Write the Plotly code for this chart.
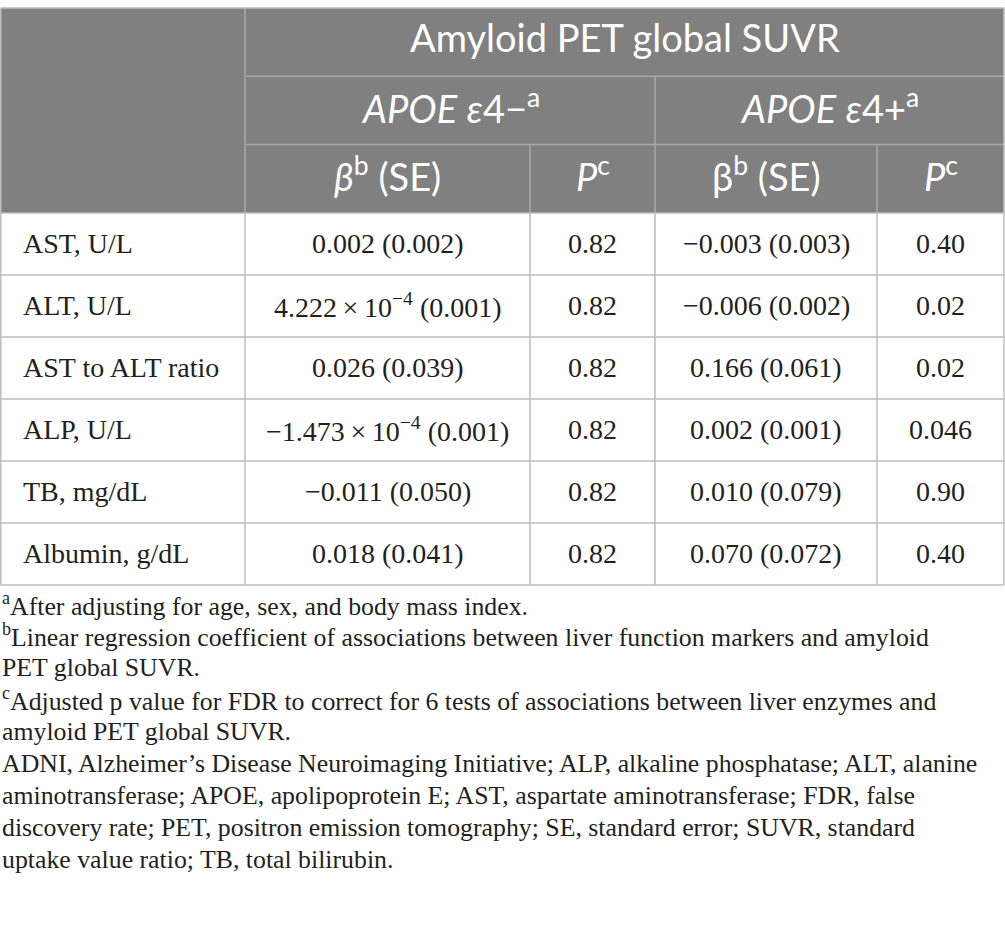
import plotly.graph_objects as go

# table content
markers = ["AST, U/L", "ALT, U/L", "AST to ALT ratio", "ALP, U/L", "TB, mg/dL", "Albumin, g/dL"]
beta_neg = ["0.002 (0.002)", "4.222\u2009×\u200910<sup>\u22124</sup> (0.001)", "0.026 (0.039)",
            "\u22121.473\u2009×\u200910<sup>\u22124</sup> (0.001)", "\u22120.011 (0.050)", "0.018 (0.041)"]
p_neg = ["0.82", "0.82", "0.82", "0.82", "0.82", "0.82"]
beta_pos = ["\u22120.003 (0.003)", "\u22120.006 (0.002)", "0.166 (0.061)",
            "0.002 (0.001)", "0.010 (0.079)", "0.070 (0.072)"]
p_pos = ["0.40", "0.02", "0.02", "0.046", "0.90", "0.40"]

title_top = "Amyloid PET global SUVR"
group_heads = ["<i>APOE</i> <i>\u03b5</i>4\u2212<sup>a</sup>", "<i>APOE</i> <i>\u03b5</i>4+<sup>a</sup>"]
sub_heads = ["<i>\u03b2</i><sup>b</sup> (SE)", "<i>P</i><sup>c</sup>", "\u03b2<sup>b</sup> (SE)", "<i>P</i><sup>c</sup>"]

footnotes = [
    "<sup>a</sup>After adjusting for age, sex, and body mass index.",
    "<sup>b</sup>Linear regression coefficient of associations between liver function markers and amyloid",
    "PET global SUVR.",
    "<sup>c</sup>Adjusted p value for FDR to correct for 6 tests of associations between liver enzymes and",
    "amyloid PET global SUVR.",
    "ADNI, Alzheimer\u2019s Disease Neuroimaging Initiative; ALP, alkaline phosphatase; ALT, alanine",
    "aminotransferase; APOE, apolipoprotein E; AST, aspartate aminotransferase; FDR, false",
    "discovery rate; PET, positron emission tomography; SE, standard error; SUVR, standard",
    "uptake value ratio; TB, total bilirubin.",
]

# layout geometry (pixels)
W, H = 1005, 941
col_x = [0.75, 245, 530, 655, 877, 1004]
top = 8
head_h = 68.3
row_h = 62
foot_y0 = 604
foot_dy = 31.9

HEAD_BG = "#808080"
HEAD_LINE = "#a9a9a9"
BODY_LINE = "#bdbdbd"
TXT = "#231f20"
SERIF = "Liberation Serif"
SANS = "Lato"

head_bot = top + 3 * head_h
body_bot = head_bot + row_h * len(markers)

fig = go.Figure()
shapes = []
annos = []


def line(x0, y0, x1, y1, color):
    shapes.append(dict(type="line", x0=x0, y0=y0, x1=x1, y1=y1,
                       line=dict(color=color, width=1.5), layer="above"))


def text(x, y, s, size, color, font, anchor="center"):
    annos.append(dict(x=x, y=y, text=s, showarrow=False, xanchor=anchor, yanchor="middle",
                      font=dict(size=size, color=color, family=font)))


# header background
shapes.append(dict(type="rect", x0=col_x[0], y0=top, x1=col_x[-1], y1=head_bot,
                   fillcolor=HEAD_BG, line=dict(width=0), layer="below"))

# header grid
line(col_x[1], top + head_h, col_x[-1], top + head_h, HEAD_LINE)
line(col_x[1], top + 2 * head_h, col_x[-1], top + 2 * head_h, HEAD_LINE)
line(col_x[1], top, col_x[1], head_bot, HEAD_LINE)
line(col_x[3], top + head_h, col_x[3], head_bot, HEAD_LINE)
line(col_x[2], top + 2 * head_h, col_x[2], head_bot, HEAD_LINE)
line(col_x[4], top + 2 * head_h, col_x[4], head_bot, HEAD_LINE)

# outer border + body grid
line(col_x[0], top, col_x[-1], top, BODY_LINE)
line(col_x[0], top, col_x[0], body_bot, BODY_LINE)
line(col_x[-1], top, col_x[-1], body_bot, BODY_LINE)
for i in range(len(markers) + 1):
    y = head_bot + i * row_h
    line(col_x[0], y, col_x[-1], y, BODY_LINE)
for cx in col_x[1:-1]:
    line(cx, head_bot, cx, body_bot, BODY_LINE)

# header texts
hs = 38
text((col_x[1] + col_x[-1]) / 2, top + head_h * 0.43, title_top, hs, "white", SANS)
text((col_x[1] + col_x[3]) / 2, top + head_h * 1.43, group_heads[0], hs, "white", SANS)
text((col_x[3] + col_x[5]) / 2, top + head_h * 1.43, group_heads[1], hs, "white", SANS)
for j, s in enumerate(sub_heads):
    text((col_x[j + 1] + col_x[j + 2]) / 2, top + head_h * 2.43, s, hs, "white", SANS)

# body texts
for i, m in enumerate(markers):
    yc = head_bot + (i + 0.5) * row_h
    text(21, yc, m, 28, TXT, SERIF, anchor="left")
    for j, col in enumerate([beta_neg, p_neg, beta_pos, p_pos]):
        text((col_x[j + 1] + col_x[j + 2]) / 2, yc, col[i], 28, TXT, SERIF)

# footnotes
for k, s in enumerate(footnotes):
    text(0, foot_y0 + k * foot_dy, s, 25.8, TXT, SERIF, anchor="left")

fig.update_layout(
    width=W, height=H,
    margin=dict(l=0, r=0, t=0, b=0),
    paper_bgcolor="white", plot_bgcolor="white",
    xaxis=dict(range=[0, W], visible=False, fixedrange=True),
    yaxis=dict(range=[H, 0], visible=False, fixedrange=True),
    shapes=shapes, annotations=annos,
    showlegend=False,
)

# page body has a default 8px margin; drop it so the table sits at the window edge
fig.write_html("out.html", config={"displayModeBar": False},
               post_script="document.body.style.margin = '0px';")
